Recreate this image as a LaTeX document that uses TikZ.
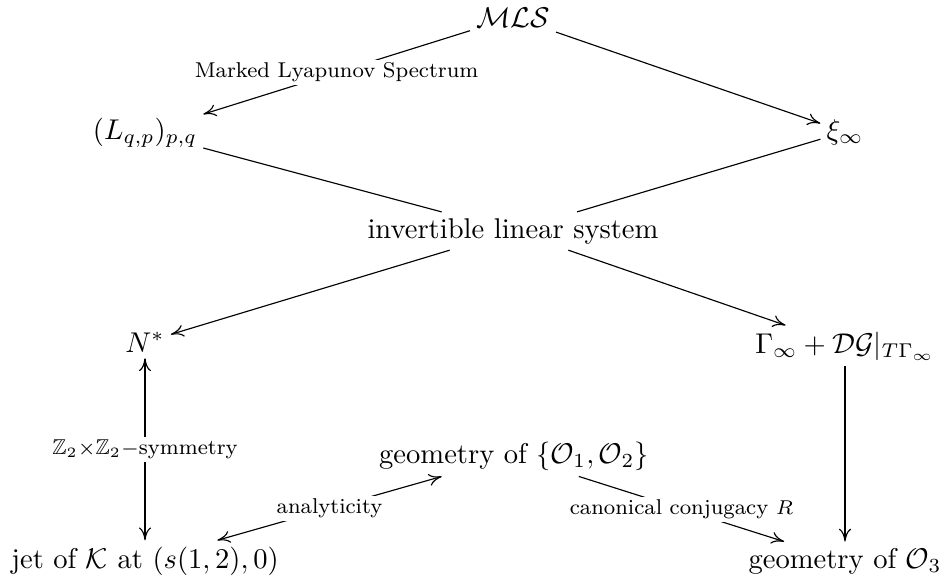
\documentclass[tikz,border=0pt]{standalone}
\usepackage{amsmath,amssymb}
\usetikzlibrary{arrows.meta,positioning}

\begin{document}
\begin{tikzpicture}[
        x=0.35pt, y=-0.35pt,
        % Estilos de nodos y flechas
        obj/.style={inner sep=2pt},
        etiq/.style={font=\fontsize{7.5pt}{9pt}\selectfont, fill=white, inner sep=1pt},
        arrow/.style={-{Computer Modern Rightarrow[length=4.5pt,width=4.2pt]}},
        dblarrow/.style={{Computer Modern Rightarrow[length=4.5pt,width=4.2pt]}-{Computer Modern Rightarrow[length=4.5pt,width=4.2pt]}},
        line/.style={draw=black}
    ]
    \useasboundingbox (0,0) rectangle (949,579);

    % Nodos (alineados por la linea base)
    \node[obj, anchor=base] (mls) at (513,27) {$\mathcal{MLS}$};
    \node[obj, anchor=base] (lqp) at (145,139) {$(L_{q,p})_{p,q}$};
    \node[obj, anchor=base] (xi) at (845,139) {$\xi_\infty$};
    \node[obj, anchor=base] (ils) at (513,238) {invertible linear system};
    \node[obj, anchor=base] (nstar) at (145,352) {$N^*$};
    \node[obj, anchor=base] (gamma) at (845,353) {$\Gamma_\infty+\mathcal{DG}|_{T\Gamma_\infty}$};
    \node[obj, anchor=base] (geo12) at (514,463) {geometry of $\{\mathcal{O}_1,\mathcal{O}_2\}$};
    \node[obj, anchor=base] (jet) at (145,568) {jet of $\mathcal{K}$ at $(s(1,2),0)$};
    \node[obj, anchor=base] (geo3) at (845,568) {geometry of $\mathcal{O}_3$};

    % Flechas
    \draw[arrow] (mls) -- node[etiq] {Marked Lyapunov Spectrum} (lqp);
    \draw[arrow] (mls) -- (xi);

    \draw[line] (lqp) -- (ils);
    \draw[line] (xi) -- (ils);

    \draw[arrow] (ils) -- (nstar);
    \draw[arrow] (ils) -- (gamma);

    \draw[dblarrow] (nstar) -- node[etiq] {$\mathbb{Z}_2{\times}\mathbb{Z}_2-$symmetry} (jet);
    \draw[dblarrow] (jet) -- node[etiq] {analyticity} (geo12);
    \draw[arrow] (geo12) -- node[etiq] {canonical conjugacy $R$} (geo3);
    \draw[arrow] (gamma) -- (geo3);

\end{tikzpicture}
\end{document}
